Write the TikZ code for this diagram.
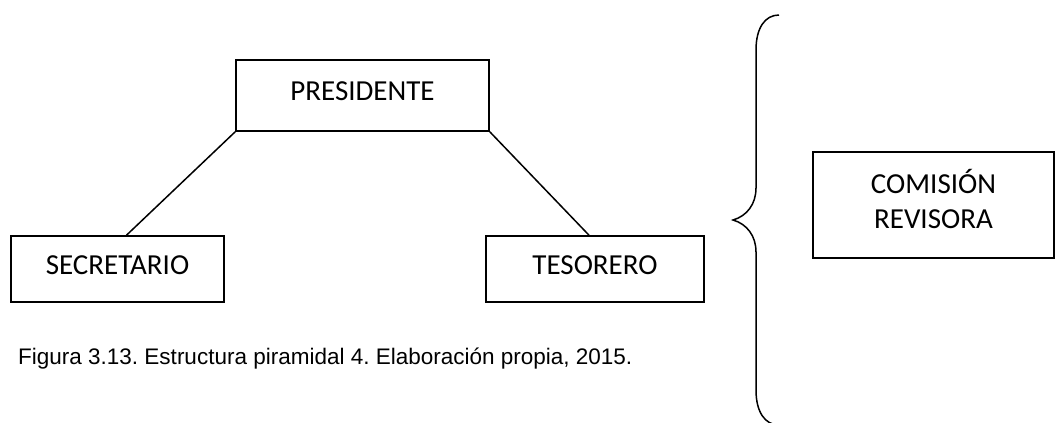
\documentclass[tikz,border=0pt]{standalone}
\usepackage{fontspec}
\setmainfont{Carlito}
\newfontfamily\capfont{Liberation Sans}
\usetikzlibrary{positioning}
\frenchspacing
\tikzset{
    x=1pt, y=-1pt, % one unit is one pixel of the page, counted from the top
    every node/.style={font=\fontsize{29}{35}\selectfont}, % the text of the chart
    box/.style={draw, line width=1.6pt, inner sep=0pt, text height=38pt, text depth=28pt}, % sets the properties for each box
    link/.style={line width=1.5pt}, % the lines between the boxes
}
\begin{document}
\begin{tikzpicture}
    \useasboundingbox (0,0) rectangle (1055,423);
    \node[box, minimum width=253pt, text height=40pt, text depth=31pt] (pres) at (362.5,95.5) {PRESIDENTE};
    \node[box, minimum width=213pt] (sec) at (117.5,269) {SECRETARIO};
    \node[box, minimum width=218pt] (tes) at (595,269) {TESORERO};
    \node[box, minimum width=241pt, minimum height=106pt] (com) at (933.5,205) {};
    \node[align=center, inner sep=0pt] (comtext) at ([yshift=6pt]com.center) {COMISIÓN\\REVISORA};
    \draw[link]
    (pres.south west) -- ([xshift=9pt]sec.north)
    (pres.south east) -- ([xshift=-6pt]tes.north);
    % the brace in front of the commission
    \coordinate (tip) at (733,220);
    \draw[link] (779,15) .. controls (765,15) and (756,28) .. (756,50)
    -- (756,188) .. controls (756,204) and (747,216) .. (tip)
    .. controls (747,224) and (756,236) .. (756,252)
    -- (756,390) .. controls (756,412) and (765,425) .. (779,425);
    \node[anchor=base west, inner sep=0pt, font=\capfont\fontsize{22.5}{26}\selectfont] (caption) at (18,364) {Figura 3.13. Estructura piramidal 4. Elaboración propia, 2015.};
\end{tikzpicture}
\end{document}
